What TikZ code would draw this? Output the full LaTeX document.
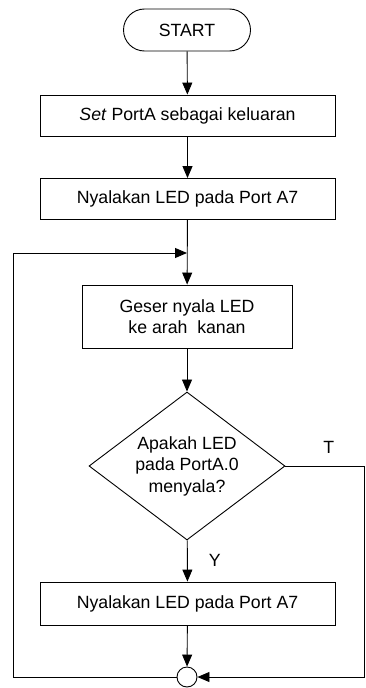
\documentclass[tikz,border=0pt]{standalone}
\usepackage{fontspec}
\setmainfont{Liberation Sans}
\usetikzlibrary{arrows.meta,shapes.geometric,positioning}

\begin{document}
\begin{tikzpicture}[
  x=1pt, y=-1pt,
  >={Triangle[length=12pt,width=10pt]},
  line width=0.9pt,
  every node/.style={font=\fontsize{17.7}{21.5}\selectfont},
  terminal/.style={draw,rectangle,rounded corners=21pt,minimum width=127pt,minimum height=42pt},
  process/.style={draw,rectangle,minimum width=295pt,minimum height=41pt,fill=white},
  decision/.style={draw,diamond,aspect=1.32,inner sep=0pt,minimum width=196pt,minimum height=148pt,align=center},
  connector/.style={draw,circle,minimum size=20pt,inner sep=0pt},
  lbl/.style={inner sep=0pt}
]
\useasboundingbox (0,0) rectangle (365,688);

% ------------------------------------------------------------
% Main column
% ------------------------------------------------------------
\node[terminal] (start) at (187,30) {START};
\node[process] (setport) at (187.5,115.5) {\textit{Set} PortA sebagai keluaran};
\node[process] (nyala1) at (187.5,199) {Nyalakan LED pada Port A7};
\node[process,minimum width=210pt,minimum height=63pt,align=center] (geser) at (187,316.5)
  {Geser nyala LED\\ke arah~ kanan};
\node[decision] (cek) at (187,466) {Apakah LED\\pada PortA.0\\menyala?};
\node[process,minimum height=43pt] (nyala2) at (187.5,603.5) {Nyalakan LED pada Port A7};
\node[connector] (sambung) at (187,677) {};

% Loop corners
\coordinate (gabung) at (187,253);
\coordinate (kiriA) at (13,253);
\coordinate (kiriB) at (13,677);
\coordinate (kananA) at (364,466);
\coordinate (kananB) at (364,677);

% ------------------------------------------------------------
% Connectors
% ------------------------------------------------------------
\draw[->] (start) -- (setport);
\draw[->] (setport) -- (nyala1);
\draw[->] (nyala1) -- (geser);
\draw[->] (geser) -- (cek);
\draw[->] (cek) -- node[lbl,midway,right=21pt] {Y} (nyala2);
\draw[->] (nyala2) -- (sambung);

% T branch back to the connector
\draw[->] (cek.east) -- node[lbl,pos=0.55,above=12.5pt] {T} (kananA) -- (kananB) -- (sambung);

% Loop back to the top
\draw[->] (sambung) -- (kiriB) -- (kiriA) -- (gabung);

\end{tikzpicture}
\end{document}
